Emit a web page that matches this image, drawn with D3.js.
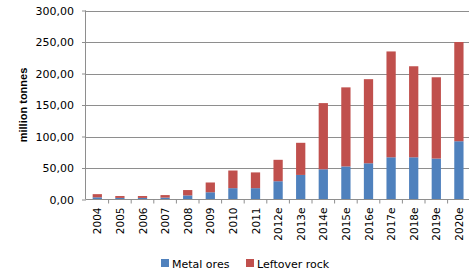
<!DOCTYPE html>
<html lang="en">
<head>
    <meta charset="UTF-8">
    <title>Metal ores and leftover rock</title>
    <script src="https://d3js.org/d3.v7.min.js"></script>
    <style>
        body {
            margin: 0;
            background: white;
            font-family: "DejaVu Sans", Verdana, sans-serif;
        }
        svg text {
            fill: #000;
        }
    </style>
</head>
<body>
    <div id="chart"></div>

    <script>
        // Data
        const years = ["2004", "2005", "2006", "2007", "2008", "2009", "2010", "2011",
            "2012e", "2013e", "2014e", "2015e", "2016e", "2017e", "2018e", "2019e", "2020e"];
        const metalOres = [3.5, 2.5, 2.5, 3, 6.5, 11.5, 18, 18, 29, 39, 48, 52.5, 57.5, 67, 67, 65, 92.5];
        const totals = [8.5, 5.5, 5.5, 7, 15, 27, 46, 43, 63, 90, 153, 178, 191, 235, 211.5, 194, 250];
        const leftoverRock = totals.map((t, i) => +(t - metalOres[i]).toFixed(1));
        const yTicks = [0, 50, 100, 150, 200, 250, 300];
        const seriesNames = ["Metal ores", "Leftover rock"];
        const colors = ["#4f81bd", "#c0504d"];

        const width = 469, height = 271;
        const margin = { top: 10.5, right: 0, bottom: 71.5, left: 86 };

        const svg = d3.select("#chart")
            .append("svg")
            .attr("width", width)
            .attr("height", height);

        const x = d3.scaleBand()
            .domain(years)
            .range([margin.left, margin.left + 22.6 * years.length])
            .paddingInner(0.59)
            .paddingOuter(0.295);

        const xTicks = d3.scaleBand().domain(years).range(x.range());

        const y = d3.scaleLinear()
            .domain([0, 300])
            .range([height - margin.bottom, margin.top]);

        // Gridlines
        svg.append("g")
            .selectAll("line")
            .data(yTicks.slice(1))
            .join("line")
            .attr("x1", margin.left)
            .attr("x2", width)
            .attr("y1", d => Math.round(y(d)) + 0.5)
            .attr("y2", d => Math.round(y(d)) + 0.5)
            .attr("stroke", "#8e8e8e")
            .attr("stroke-width", 1.2);

        // Stacked bars
        const rows = years.map((yr, i) => ({ year: yr, metal: metalOres[i], rock: leftoverRock[i] }));
        const stack = d3.stack().keys(["metal", "rock"])(rows);

        svg.append("g")
            .selectAll("g")
            .data(stack)
            .join("g")
            .attr("fill", (d, i) => colors[i])
            .selectAll("rect")
            .data(d => d)
            .join("rect")
            .attr("x", d => x(d.data.year))
            .attr("width", x.bandwidth())
            .attr("y", d => y(d[1]))
            .attr("height", d => y(d[0]) - y(d[1]));

        // Y axis
        const yAxis = svg.append("g")
            .attr("transform", `translate(${margin.left},0)`)
            .call(d3.axisLeft(y)
                .tickValues(yTicks)
                .tickSize(4)
                .tickPadding(8)
                .tickFormat(d => d3.format(".2f")(d).replace(".", ",")));
        yAxis.select(".domain").attr("stroke", "#8e8e8e").attr("d", `M-0.5,${y(300)}V${y(0)}`);
        yAxis.selectAll(".tick line").attr("stroke", "#8e8e8e");
        yAxis.selectAll("text")
            .style("font-family", "'DejaVu Sans', Verdana, sans-serif")
            .style("font-size", "11px");

        // X axis
        const baseY = y(0);
        svg.append("line")
            .attr("x1", margin.left)
            .attr("x2", width)
            .attr("y1", baseY)
            .attr("y2", baseY)
            .attr("stroke", "#8e8e8e")
            .attr("stroke-width", 1.2);

        svg.append("g")
            .selectAll("line")
            .data(years)
            .join("line")
            .attr("x1", d => xTicks(d) + xTicks.bandwidth())
            .attr("x2", d => xTicks(d) + xTicks.bandwidth())
            .attr("y1", baseY)
            .attr("y2", baseY + 4)
            .attr("stroke", "#8e8e8e");

        svg.append("g")
            .selectAll("text")
            .data(years)
            .join("text")
            .attr("transform", d => `translate(${xTicks(d) + xTicks.bandwidth() / 2 + 4},${baseY + 8}) rotate(-90)`)
            .attr("text-anchor", "end")
            .style("font-size", "10.5px")
            .text(d => d);

        // Y label
        svg.append("text")
            .attr("transform", `translate(27,${(y(0) + y(300)) / 2}) rotate(-90)`)
            .attr("text-anchor", "middle")
            .style("font-family", "'Liberation Sans', Arial, sans-serif")
            .style("font-size", "11px")
            .style("font-weight", "bold")
            .text("million tonnes");

        // Legend
        const legendX = [161, 246];
        const legend = svg.append("g")
            .selectAll("g")
            .data(seriesNames)
            .join("g")
            .attr("transform", (d, i) => `translate(${legendX[i]},259)`);
        legend.append("rect")
            .attr("width", 8)
            .attr("height", 8)
            .attr("fill", (d, i) => colors[i]);
        legend.append("text")
            .attr("x", 11)
            .attr("y", 8.5)
            .style("font-size", "11px")
            .text(d => d);
    </script>
</body>
</html>
